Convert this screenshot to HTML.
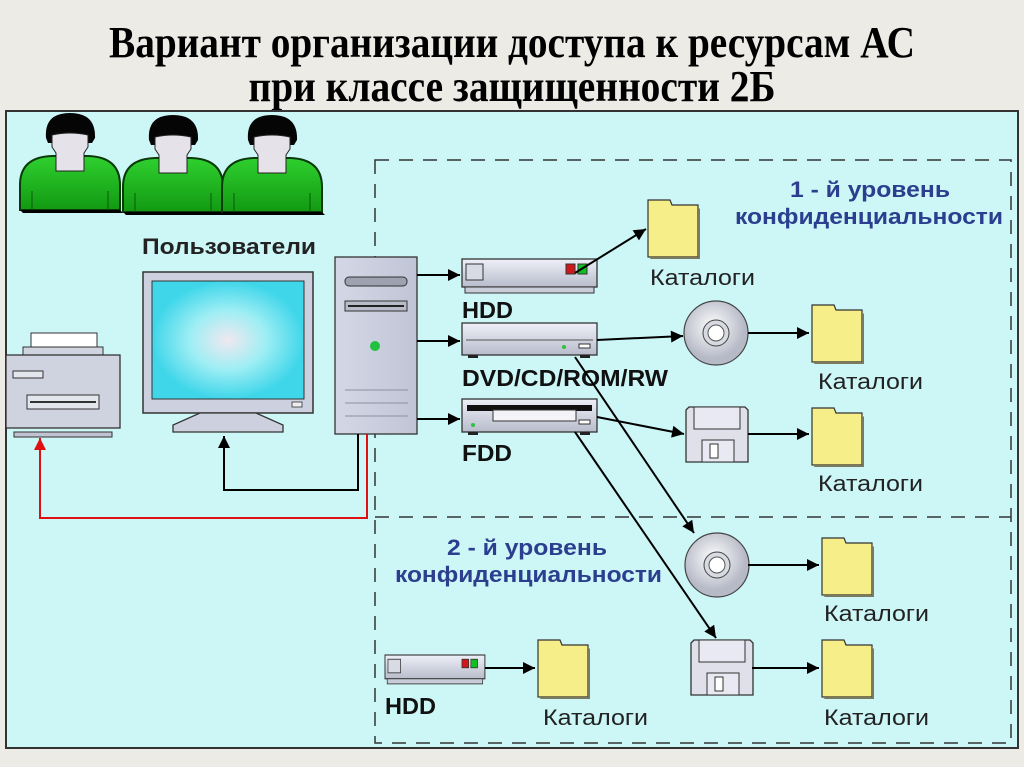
<!DOCTYPE html>
<html><head><meta charset="utf-8"><style>
html,body{margin:0;padding:0;background:#ecebe6;}
svg{display:block}
text{font-family:"Liberation Sans",sans-serif;}
</style></head><body>
<svg width="1024" height="767" viewBox="0 0 1024 767" xmlns="http://www.w3.org/2000/svg">
<defs>
<linearGradient id="dev" x1="0" y1="0" x2="0" y2="1"><stop offset="0" stop-color="#eef0f8"/><stop offset="1" stop-color="#b8bccb"/></linearGradient>
<linearGradient id="tow" x1="0" y1="0" x2="1" y2="0"><stop offset="0" stop-color="#d4d8e6"/><stop offset="1" stop-color="#c0c5d6"/></linearGradient>
<linearGradient id="grn" x1="0" y1="0" x2="0" y2="1"><stop offset="0" stop-color="#2fd02f"/><stop offset="1" stop-color="#129a12"/></linearGradient>
<radialGradient id="scr"><stop offset="0" stop-color="#f0e8f0"/><stop offset="0.5" stop-color="#9eeef4"/><stop offset="1" stop-color="#3fd6ea"/></radialGradient>
<radialGradient id="cd" cx="0.45" cy="0.4"><stop offset="0" stop-color="#ffffff"/><stop offset="1" stop-color="#b6b9c6"/></radialGradient>
<marker id="arb" viewBox="0 0 10 10" refX="10" refY="5" markerWidth="16" markerHeight="12" markerUnits="userSpaceOnUse" orient="auto"><path d="M0,0L10,5L0,10z" fill="#000"/></marker>
<marker id="arr" viewBox="0 0 10 10" refX="10" refY="5" markerWidth="16" markerHeight="12" markerUnits="userSpaceOnUse" orient="auto"><path d="M0,0L10,5L0,10z" fill="#e01010"/></marker>
<g id="user">
<path d="M-50,97 L-50,72 Q-50,44 -18,43 L18,43 Q50,44 50,72 L50,97 Z" fill="url(#grn)" stroke="#0a3a0a" stroke-width="2"/>
<path d="M-50,97 L50,97 L53,100 L-47,100 Z" fill="#000"/>
<line x1="-38" y1="78" x2="-38" y2="97" stroke="#0a5a0a"/><line x1="38" y1="78" x2="38" y2="97" stroke="#0a5a0a"/>
<path d="M-24,25 Q-26,0 0,0 Q26,0 25,25 L22,30 L-22,30 Z" fill="#050505"/>
<path d="M-18,22 Q0,18 18,22 L18,34 L14,40 L14,58 L-14,58 L-14,40 L-18,34 Z" fill="#e6e2ea" stroke="#222" stroke-width="1"/>
</g>
<g id="folder">
<path d="M0,0 L22,0 L24,5 L50,5 L50,57 L0,57 Z" fill="#f6ee88" stroke="#333" stroke-width="1.2"/>
<path d="M50,7 L52,9 L52,59 L3,59 L0,57 L50,57Z" fill="#7a7a60"/>
</g>
<g id="disc">
<circle r="32" fill="url(#cd)" stroke="#444" stroke-width="1.2"/>
<circle r="13" fill="#d8dae2" stroke="#444"/>
<circle r="8" fill="#fff" stroke="#555"/>
</g>
<g id="floppy">
<path d="M0,3 L3,0 L59,0 L62,3 L62,55 L0,55 Z" fill="#dfe0ea" stroke="#333" stroke-width="1.3"/>
<rect x="8" y="0" width="46" height="22" fill="#e8e9f2" stroke="#333"/>
<rect x="16" y="33" width="32" height="22" fill="#e8e9f2" stroke="#333"/>
<rect x="24" y="37" width="8" height="14" fill="#fff" stroke="#333"/>
</g>
<g id="hdd">
<rect x="0" y="0" width="135" height="28" fill="url(#dev)" stroke="#333" stroke-width="1.3"/>
<rect x="3" y="28" width="129" height="6" fill="#c8ccd8" stroke="#333"/>
<rect x="4" y="5" width="17" height="16" fill="#d8dbe6" stroke="#333"/>
<rect x="104" y="5" width="9" height="10" fill="#d01818" stroke="#333"/>
<rect x="116" y="5" width="9" height="10" fill="#10c020" stroke="#333"/>
</g>
</defs>

<text x="512" y="57" text-anchor="middle" font-weight="bold" font-size="44" textLength="806" lengthAdjust="spacingAndGlyphs" style="font-family:'Liberation Serif',serif">Вариант организации доступа к ресурсам АС</text>
<text x="512" y="101" text-anchor="middle" font-weight="bold" font-size="44" textLength="527" lengthAdjust="spacingAndGlyphs" style="font-family:'Liberation Serif',serif">при классе защищенности 2Б</text>

<rect x="6" y="111" width="1012" height="637" fill="#cdf6f7" stroke="#333" stroke-width="2"/>
<g stroke="#333" stroke-width="1.5" stroke-dasharray="14,10" fill="none">
<rect x="375" y="160" width="636" height="583"/>
<line x1="375" y1="517" x2="1011" y2="517"/>
</g>

<use href="#user" x="70" y="113"/>
<use href="#user" x="173" y="115"/>
<use href="#user" x="272" y="115"/>
<text x="142" y="254" font-size="22" font-weight="bold" fill="#222" textLength="174" lengthAdjust="spacingAndGlyphs">Пользователи</text>

<rect x="143" y="272" width="170" height="141" fill="#cdd1df" stroke="#333" stroke-width="1.5"/>
<rect x="152" y="281" width="152" height="118" fill="url(#scr)" stroke="#333"/>
<rect x="292" y="402" width="10" height="5" fill="#eee" stroke="#333" stroke-width="0.8"/>
<path d="M200,413 L256,413 L283,425 L283,432 L173,432 L173,425 Z" fill="#cdd1df" stroke="#333" stroke-width="1.3"/>
<rect x="31" y="333" width="66" height="20" fill="#fff" stroke="#333"/>
<rect x="23" y="347" width="80" height="8" fill="#d0d4e0" stroke="#333"/>
<rect x="6" y="355" width="114" height="73" fill="#cfd3e0" stroke="#333" stroke-width="1.3"/>
<rect x="14" y="432" width="98" height="5" fill="#c0c4d2" stroke="#333"/>
<rect x="13" y="371" width="30" height="7" fill="#e4e6ee" stroke="#333"/>
<rect x="27" y="395" width="72" height="14" fill="#e4e6ee" stroke="#333"/>
<line x1="30" y1="402" x2="96" y2="402" stroke="#333" stroke-width="2"/>
<rect x="335" y="257" width="82" height="177" fill="url(#tow)" stroke="#333" stroke-width="1.3"/>
<rect x="345" y="277" width="62" height="9" rx="4" fill="#9ea2b0" stroke="#333"/>
<rect x="345" y="301" width="62" height="10" fill="#b8bcc8" stroke="#333"/>
<line x1="348" y1="306" x2="404" y2="306" stroke="#222" stroke-width="2"/>
<circle cx="375" cy="346" r="5" fill="#20c040"/>
<g stroke="#8c90a0"><line x1="345" y1="390" x2="408" y2="390"/><line x1="345" y1="403" x2="408" y2="403"/><line x1="345" y1="416" x2="408" y2="416"/></g>

<polyline points="358,434 358,490 224,490 224,436" fill="none" stroke="#000" stroke-width="2" marker-end="url(#arb)"/>
<polyline points="367,434 367,518 40,518 40,438" fill="none" stroke="#e01010" stroke-width="2" marker-end="url(#arr)"/>
<line x1="417" y1="275" x2="460" y2="275" stroke="#000" stroke-width="2" marker-end="url(#arb)"/>
<line x1="417" y1="341" x2="460" y2="341" stroke="#000" stroke-width="2" marker-end="url(#arb)"/>
<line x1="417" y1="419" x2="460" y2="419" stroke="#000" stroke-width="2" marker-end="url(#arb)"/>

<use href="#hdd" x="462" y="259"/>
<text x="462" y="318" font-size="23" font-weight="bold" fill="#111" textLength="51" lengthAdjust="spacingAndGlyphs">HDD</text>
<rect x="462" y="323" width="135" height="32" fill="url(#dev)" stroke="#333" stroke-width="1.3"/>
<line x1="466" y1="340" x2="593" y2="340" stroke="#555"/>
<rect x="579" y="344" width="11" height="4" fill="#fff" stroke="#333"/>
<circle cx="564" cy="347" r="2" fill="#30c040"/>
<rect x="468" y="355" width="10" height="3" fill="#222"/><rect x="580" y="355" width="10" height="3" fill="#222"/>
<text x="462" y="386" font-size="23" font-weight="bold" fill="#111" textLength="206" lengthAdjust="spacingAndGlyphs">DVD/CD/ROM/RW</text>
<rect x="462" y="399" width="135" height="33" fill="url(#dev)" stroke="#333" stroke-width="1.3"/>
<rect x="467" y="405" width="125" height="6" fill="#111"/>
<rect x="493" y="410" width="83" height="11" fill="#f4f4f8" stroke="#333"/>
<rect x="579" y="420" width="11" height="4" fill="#fff" stroke="#333"/>
<circle cx="473" cy="425" r="2" fill="#30c040"/>
<rect x="468" y="432" width="10" height="3" fill="#222"/><rect x="580" y="432" width="10" height="3" fill="#222"/>
<text x="462" y="461" font-size="23" font-weight="bold" fill="#111" textLength="50" lengthAdjust="spacingAndGlyphs">FDD</text>

<text x="790" y="197" font-size="22" font-weight="bold" fill="#2b3f8e" textLength="160" lengthAdjust="spacingAndGlyphs">1 - й уровень</text>
<text x="735" y="224" font-size="22" font-weight="bold" fill="#2b3f8e" textLength="268" lengthAdjust="spacingAndGlyphs">конфиденциальности</text>
<use href="#folder" x="648" y="200"/>
<text x="650" y="285" font-size="22" fill="#222" textLength="105" lengthAdjust="spacingAndGlyphs">Каталоги</text>
<line x1="575" y1="273" x2="646" y2="229" stroke="#000" stroke-width="2" marker-end="url(#arb)"/>

<use href="#disc" x="716" y="333"/>
<line x1="597" y1="340" x2="683" y2="336" stroke="#000" stroke-width="2" marker-end="url(#arb)"/>
<line x1="748" y1="333" x2="809" y2="333" stroke="#000" stroke-width="2" marker-end="url(#arb)"/>
<use href="#folder" x="812" y="305"/>
<text x="818" y="389" font-size="22" fill="#222" textLength="105" lengthAdjust="spacingAndGlyphs">Каталоги</text>

<use href="#floppy" x="686" y="407"/>
<line x1="597" y1="417" x2="684" y2="434" stroke="#000" stroke-width="2" marker-end="url(#arb)"/>
<line x1="748" y1="434" x2="809" y2="434" stroke="#000" stroke-width="2" marker-end="url(#arb)"/>
<use href="#folder" x="812" y="408"/>
<text x="818" y="491" font-size="22" fill="#222" textLength="105" lengthAdjust="spacingAndGlyphs">Каталоги</text>

<line x1="575" y1="357" x2="694" y2="533" stroke="#000" stroke-width="2" marker-end="url(#arb)"/>
<line x1="575" y1="432" x2="716" y2="638" stroke="#000" stroke-width="2" marker-end="url(#arb)"/>

<text x="447" y="555" font-size="22" font-weight="bold" fill="#2b3f8e" textLength="160" lengthAdjust="spacingAndGlyphs">2 - й уровень</text>
<text x="395" y="582" font-size="22" font-weight="bold" fill="#2b3f8e" textLength="267" lengthAdjust="spacingAndGlyphs">конфиденциальности</text>
<use href="#disc" x="717" y="565"/>
<line x1="748" y1="565" x2="819" y2="565" stroke="#000" stroke-width="2" marker-end="url(#arb)"/>
<use href="#folder" x="822" y="538"/>
<text x="824" y="621" font-size="22" fill="#222" textLength="105" lengthAdjust="spacingAndGlyphs">Каталоги</text>

<use href="#floppy" x="691" y="640"/>
<line x1="752" y1="668" x2="819" y2="668" stroke="#000" stroke-width="2" marker-end="url(#arb)"/>
<use href="#folder" x="822" y="640"/>
<text x="824" y="725" font-size="22" fill="#222" textLength="105" lengthAdjust="spacingAndGlyphs">Каталоги</text>

<g transform="translate(385,655) scale(0.74,0.85)"><use href="#hdd"/></g>
<text x="385" y="714" font-size="23" font-weight="bold" fill="#111" textLength="51" lengthAdjust="spacingAndGlyphs">HDD</text>
<line x1="485" y1="668" x2="535" y2="668" stroke="#000" stroke-width="2" marker-end="url(#arb)"/>
<use href="#folder" x="538" y="640"/>
<text x="543" y="725" font-size="22" fill="#222" textLength="105" lengthAdjust="spacingAndGlyphs">Каталоги</text>
</svg>
</body></html>
